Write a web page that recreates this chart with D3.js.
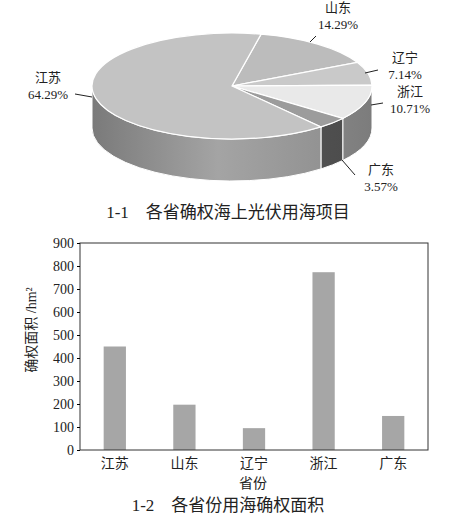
<!DOCTYPE html>
<html><head><meta charset="utf-8">
<script src="https://cdn.jsdelivr.net/npm/d3@7"></script>
<style>body{margin:0;background:#fff}text{font-family:"Liberation Serif","Noto Sans CJK SC",serif;fill:#222}</style>
</head><body><script>
var provinces = ["江苏", "山东", "辽宁", "浙江", "广东"];
var shares = [64.29, 14.29, 7.14, 10.71, 3.57];
var pieOrder = ["山东", "辽宁", "浙江", "广东", "江苏"];
var areas = [450, 197, 95, 773, 148];
var yTicks = [0, 100, 200, 300, 400, 500, 600, 700, 800, 900];

var svg = d3.select("body").append("svg").attr("width", 450).attr("height", 517);
var defs = svg.append("defs");

// ---- 3D pie ----
var cx = 232, cy = 86, rx = 140, ry = 53, depth = 42;
var topColor = {"江苏": "#c3c3c3", "山东": "#bcbcbc", "辽宁": "#c9c9c9", "浙江": "#e9e9e9", "广东": "#9c9c9c"};
var sideColor = {"江苏": ["#7a7a7a", "#a4a4a4", "#8a8a8a"], "山东": ["#888", "#999", "#888"], "辽宁": ["#999", "#aaa", "#999"], "浙江": ["#8c8c8c", "#9a9a9a", "#7c7c7c"], "广东": ["#4a4a4a", "#5a5a5a", "#4a4a4a"]};

var pieData = pieOrder.map(function(p){ return {name: p, value: shares[provinces.indexOf(p)]}; });
var start = 12 * Math.PI / 180;
var arcs = d3.pie().value(function(d){ return d.value; }).sort(null)
    .startAngle(start).endAngle(start + 2 * Math.PI)(pieData);

function pt(a, dy){ return [cx + rx * Math.sin(a), cy - ry * Math.cos(a) + (dy || 0)]; }

// side walls (front half: angle between PI/2 and 3PI/2)
arcs.forEach(function(d, i){
    var a0 = Math.max(d.startAngle, Math.PI / 2), a1 = Math.min(d.endAngle, 3 * Math.PI / 2);
    if (a1 <= a0) return;
    var g = defs.append("linearGradient").attr("id", "side" + i)
        .attr("gradientUnits", "userSpaceOnUse").attr("x1", cx - rx).attr("x2", cx + rx).attr("y1", 0).attr("y2", 0);
    var c = sideColor[d.data.name];
    g.append("stop").attr("offset", 0).attr("stop-color", c[0]);
    g.append("stop").attr("offset", 0.45).attr("stop-color", c[1]);
    g.append("stop").attr("offset", 1).attr("stop-color", c[2]);
    var p0 = pt(a0), p1 = pt(a1), q1 = pt(a1, depth), q0 = pt(a0, depth);
    var large = (a1 - a0) > Math.PI ? 1 : 0;
    svg.append("path")
        .attr("d", "M" + p0 + "A" + rx + " " + ry + " 0 " + large + " 1 " + p1 + "L" + q1 +
            "A" + rx + " " + ry + " 0 " + large + " 0 " + q0 + "Z")
        .attr("fill", "url(#side" + i + ")").attr("stroke", "#fff").attr("stroke-width", 1);
});

// top faces
arcs.forEach(function(d){
    var p0 = pt(d.startAngle), p1 = pt(d.endAngle);
    var large = (d.endAngle - d.startAngle) > Math.PI ? 1 : 0;
    svg.append("path")
        .attr("d", "M" + cx + "," + cy + "L" + p0 + "A" + rx + " " + ry + " 0 " + large + " 1 " + p1 + "Z")
        .attr("fill", topColor[d.data.name]).attr("stroke", "#fff").attr("stroke-width", 1.2);
});

// labels
var labelPos = {
    "山东": {x: 338, y: 12, line: [[310, 42], [316, 36]]},
    "辽宁": {x: 405, y: 62, line: [[365, 73], [378, 70]]},
    "浙江": {x: 410, y: 96, line: [[371, 105], [383, 103]]},
    "广东": {x: 381, y: 174, line: [[342, 160], [355, 175]]},
    "江苏": {x: 48, y: 82, line: [[75, 94], [92, 97]]}
};
arcs.forEach(function(d){
    var l = labelPos[d.data.name];
    svg.append("line").attr("x1", l.line[0][0]).attr("y1", l.line[0][1]).attr("x2", l.line[1][0]).attr("y2", l.line[1][1])
        .attr("stroke", "#222").attr("stroke-width", 1);
    var t = svg.append("text").attr("x", l.x).attr("y", l.y).attr("text-anchor", "middle").style("font-size", "13px");
    t.append("tspan").attr("x", l.x).attr("dy", 0).text(d.data.name);
    t.append("tspan").attr("x", l.x).attr("dy", 17).text(d.data.value.toFixed(2) + "%");
});

svg.append("text").attr("x", 228).attr("y", 218).attr("text-anchor", "middle").style("font-size", "17px")
    .text("1-1　各省确权海上光伏用海项目");

// ---- bar chart ----
var plotLeft = 80, plotRight = 428, plotTop = 243, plotBottom = 450;
var x = d3.scaleBand().domain(provinces).range([plotLeft, plotRight]).paddingInner(0.68).paddingOuter(0.34);
var y = d3.scaleLinear().domain([0, 900]).range([plotBottom, plotTop]);

svg.selectAll(".bar").data(areas).enter().append("rect").attr("class", "bar")
    .attr("x", function(d, i){ return x(provinces[i]); })
    .attr("y", function(d){ return y(d); })
    .attr("width", x.bandwidth())
    .attr("height", function(d){ return plotBottom - y(d); })
    .attr("fill", "#a6a6a6");

svg.append("rect").attr("x", plotLeft).attr("y", plotTop).attr("width", plotRight - plotLeft).attr("height", plotBottom - plotTop)
    .attr("fill", "none").attr("stroke", "#333").attr("stroke-width", 1);

var ya = svg.append("g").attr("transform", "translate(" + plotLeft + ",0)")
    .call(d3.axisLeft(y).tickValues(yTicks).tickSize(3).tickPadding(3));
ya.select(".domain").remove();
ya.selectAll("text").style("font-size", "14px").style("fill", "#222");

var xa = svg.append("g").attr("transform", "translate(0," + plotBottom + ")")
    .call(d3.axisBottom(x).tickSize(0).tickPadding(8));
xa.select(".domain").remove();
xa.selectAll("text").style("font-size", "14px").style("fill", "#222");

svg.append("text").attr("x", 253).attr("y", 488).attr("text-anchor", "middle").style("font-size", "14px").text("省份");
svg.append("text").attr("transform", "translate(36,330) rotate(-90)").attr("text-anchor", "middle")
    .style("font-size", "14px").text("确权面积 /hm²");

svg.append("text").attr("x", 228).attr("y", 511).attr("text-anchor", "middle").style("font-size", "17px")
    .text("1-2　各省份用海确权面积");
</script></body></html>
